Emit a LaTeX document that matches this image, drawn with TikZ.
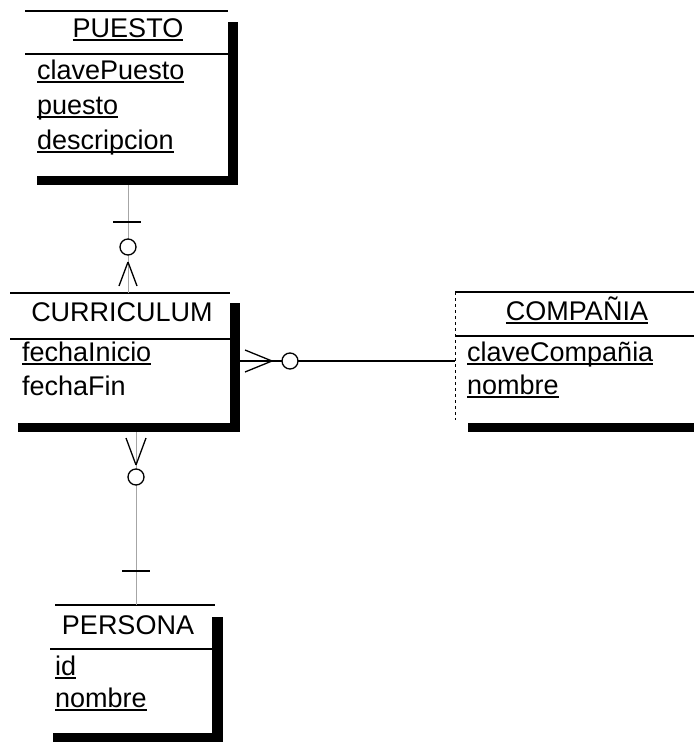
\documentclass[tikz,border=0pt]{standalone}
\usepackage{fontspec}
\setmainfont{Liberation Sans}
\usepackage{tikz}
\usetikzlibrary{positioning}
\newcommand{\clave}[1]{\setbox0\hbox{#1}\rlap{\rule[-4pt]{\wd0}{1.6pt}}#1}

\begin{document}
\begin{tikzpicture}[
    x=1pt, y=-1pt,
    rule/.style={line width=1.3pt},
    sombra/.style={fill=black, draw=none},
    titulo/.style={anchor=base, inner sep=0pt, font=\fontsize{27}{32}\selectfont},
    campo/.style={anchor=base west, inner sep=0pt, font=\fontsize{27}{32}\selectfont},
    rel/.style={line width=1pt, black!35},
    marca/.style={line width=1.3pt}
]
\useasboundingbox (0,0) rectangle (694,742);
% PUESTO
\draw[rule] (25,11) -- (228,11);
\draw[rule] (25,54) -- (228,54);
\fill[sombra] (228,22) rectangle (238,185);
\fill[sombra] (37,176) rectangle (238,185);
\node[titulo] (tPuesto) at (128,37) {\clave{PUESTO}};
\node[campo] (clavePuesto) at (37,79) {\clave{clavePuesto}};
\node[campo] (puesto) at (37,114) {\clave{puesto}};
\node[campo] (descripcion) at (37,149) {\clave{descripcion}};
% CURRICULUM
\draw[rule] (10,293) -- (230,293);
\draw[rule] (10,339) -- (230,339);
\fill[sombra] (230,303) rectangle (240,432);
\fill[sombra] (18,423) rectangle (240,432);
\node[titulo] (tCurriculum) at (122,321) {CURRICULUM};
\node[campo] (fechaInicio) at (22,361) {\clave{fechaInicio}};
\node[campo] (fechaFin) at (22,395) {fechaFin};
% COMPANIA
\draw[rule] (455,292) -- (694,292);
\draw[rule] (455,336) -- (694,336);
\draw[line width=0.8pt, dashed] (455,292) -- (455,420);
\fill[sombra] (468,423) rectangle (694,432);
\node[titulo] (tCompania) at (577,320) {\clave{COMPAÑIA}};
\node[campo] (claveCompania) at (467,361) {\clave{claveCompañia}};
\node[campo] (nombreC) at (467,394) {\clave{nombre}};
% PERSONA
\draw[rule] (55,605) -- (215,605);
\draw[rule] (50,649) -- (215,649);
\fill[sombra] (212,617) rectangle (223,742);
\fill[sombra] (53,733) rectangle (223,742);
\node[titulo] (tPersona) at (128,634) {PERSONA};
\node[campo] (id) at (55,675) {\clave{id}};
\node[campo] (nombreP) at (55,707) {\clave{nombre}};
% extremos de las relaciones
\coordinate (pBot) at (128,185);
\coordinate (cTop) at (128,293);
\coordinate (cRight) at (240,361);
\coordinate (kLeft) at (455,361);
\coordinate (cBot) at (136,432);
\coordinate (pTop) at (136,605);
% PUESTO -- CURRICULUM
\draw[rel] (pBot) -- (cTop);
\draw[marca] (113,222) -- (141,222);
\draw[marca, fill=white] (128,247) circle (8);
\draw[marca] (128,262) -- (119,286) (128,262) -- (137,286);
% CURRICULUM -- COMPANIA
\draw[line width=1.2pt] (cRight) -- (kLeft);
\draw[marca, fill=white] (290,361) circle (8);
\draw[marca] (272,361) -- (245,350) (272,361) -- (245,372);
% CURRICULUM -- PERSONA
\draw[rel] (cBot) -- (pTop);
\draw[marca] (136,465) -- (126,438) (136,465) -- (146,438);
\draw[marca, fill=white] (136,477) circle (8);
\draw[marca] (122,571) -- (150,571);
\end{tikzpicture}
\end{document}
